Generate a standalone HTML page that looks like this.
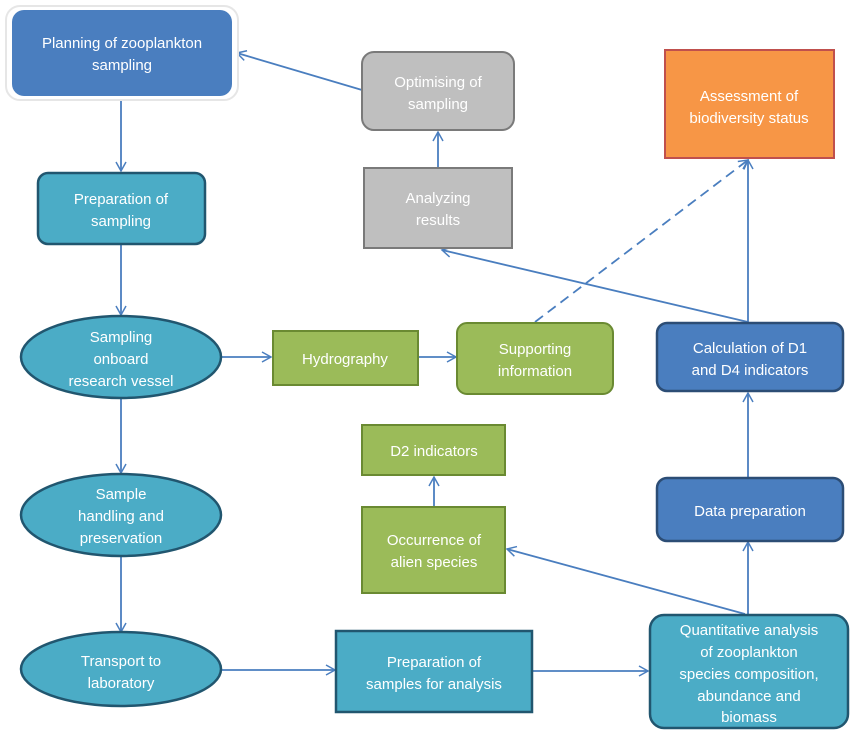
<!DOCTYPE html>
<html><head><meta charset="utf-8"><style>
body{margin:0;background:#fff}
svg text{font-family:"Liberation Sans",sans-serif;font-size:15px;fill:#fff;text-anchor:middle}
</style></head><body>
<svg width="851" height="738" viewBox="0 0 851 738">
<defs>
<marker id="a" markerWidth="12" markerHeight="12" refX="10" refY="6" orient="auto" markerUnits="userSpaceOnUse">
<path d="M1,1 L10,6 L1,11" fill="none" stroke="#4a7ebf" stroke-width="1.5"/></marker>
</defs>
<g stroke="#4a7ebf" stroke-width="1.8" fill="none">
<line x1="362" y1="90" x2="237" y2="53" marker-end="url(#a)"/>
<line x1="438" y1="167" x2="438" y2="132" marker-end="url(#a)"/>
<line x1="748" y1="322" x2="442" y2="250" marker-end="url(#a)"/>
<line x1="535" y1="322" x2="748" y2="160" stroke-dasharray="10,6" marker-end="url(#a)"/>
<line x1="748" y1="322" x2="748" y2="160" marker-end="url(#a)"/>
<line x1="121" y1="98" x2="121" y2="171" marker-end="url(#a)"/>
<line x1="121" y1="245" x2="121" y2="315" marker-end="url(#a)"/>
<line x1="222" y1="357" x2="271" y2="357" marker-end="url(#a)"/>
<line x1="418" y1="357" x2="456" y2="357" marker-end="url(#a)"/>
<line x1="121" y1="398" x2="121" y2="473" marker-end="url(#a)"/>
<line x1="121" y1="556" x2="121" y2="632" marker-end="url(#a)"/>
<line x1="222" y1="670" x2="335" y2="670" marker-end="url(#a)"/>
<line x1="532" y1="671" x2="648" y2="671" marker-end="url(#a)"/>
<line x1="748" y1="614" x2="748" y2="542" marker-end="url(#a)"/>
<line x1="748" y1="477" x2="748" y2="393" marker-end="url(#a)"/>
<line x1="745" y1="614" x2="507" y2="549" marker-end="url(#a)"/>
<line x1="434" y1="506" x2="434" y2="477" marker-end="url(#a)"/>
</g>
<rect x="6" y="6" width="232" height="94" rx="14" fill="#fff" stroke="#e6e6e6" stroke-width="2"/>
<rect x="12" y="10" width="220" height="86" rx="12" fill="#4a7ebf"/>
<text x="122" y="48">Planning of zooplankton</text><text x="122" y="70">sampling</text>
<rect x="362" y="52" width="152" height="78" rx="12" fill="#bfbfbf" stroke="#7a7a7a" stroke-width="2"/>
<text x="438" y="87">Optimising of</text><text x="438" y="109">sampling</text>
<rect x="364" y="168" width="148" height="80" fill="#bfbfbf" stroke="#7a7a7a" stroke-width="2"/>
<text x="438" y="203">Analyzing</text><text x="438" y="225">results</text>
<rect x="665" y="50" width="169" height="108" fill="#f79646" stroke="#c0504d" stroke-width="2"/>
<text x="749" y="101">Assessment of</text><text x="749" y="123">biodiversity status</text>
<rect x="38" y="173" width="167" height="71" rx="10" fill="#4bacc6" stroke="#21566f" stroke-width="2.5"/>
<text x="121" y="204">Preparation of</text><text x="121" y="226">sampling</text>
<ellipse cx="121" cy="357" rx="100" ry="41" fill="#4bacc6" stroke="#21566f" stroke-width="2.5"/>
<text x="121" y="342">Sampling</text><text x="121" y="364">onboard</text><text x="121" y="386">research vessel</text>
<rect x="273" y="331" width="145" height="54" fill="#9bbb59" stroke="#6a8a32" stroke-width="2"/>
<text x="345" y="364">Hydrography</text>
<rect x="457" y="323" width="156" height="71" rx="10" fill="#9bbb59" stroke="#6a8a32" stroke-width="2"/>
<text x="535" y="354">Supporting</text><text x="535" y="376">information</text>
<rect x="657" y="323" width="186" height="68" rx="10" fill="#4a7ebf" stroke="#2c4d75" stroke-width="2.5"/>
<text x="750" y="353">Calculation of D1</text><text x="750" y="375">and D4 indicators</text>
<rect x="362" y="425" width="143" height="50" fill="#9bbb59" stroke="#6a8a32" stroke-width="2"/>
<text x="434" y="456">D2 indicators</text>
<rect x="362" y="507" width="143" height="86" fill="#9bbb59" stroke="#6a8a32" stroke-width="2"/>
<text x="434" y="545">Occurrence of</text><text x="434" y="567">alien species</text>
<rect x="657" y="478" width="186" height="63" rx="10" fill="#4a7ebf" stroke="#2c4d75" stroke-width="2.5"/>
<text x="750" y="516">Data preparation</text>
<ellipse cx="121" cy="515" rx="100" ry="41" fill="#4bacc6" stroke="#21566f" stroke-width="2.5"/>
<text x="121" y="499">Sample</text><text x="121" y="521">handling and</text><text x="121" y="543">preservation</text>
<ellipse cx="121" cy="669" rx="100" ry="37" fill="#4bacc6" stroke="#21566f" stroke-width="2.5"/>
<text x="121" y="666">Transport to</text><text x="121" y="688">laboratory</text>
<rect x="336" y="631" width="196" height="81" fill="#4bacc6" stroke="#21566f" stroke-width="2.5"/>
<text x="434" y="667">Preparation of</text><text x="434" y="689">samples for analysis</text>
<rect x="650" y="615" width="198" height="113" rx="14" fill="#4bacc6" stroke="#21566f" stroke-width="2.5"/>
<text x="749" y="635">Quantitative analysis</text><text x="749" y="657">of zooplankton</text><text x="749" y="679">species composition,</text><text x="749" y="701">abundance and</text><text x="749" y="722">biomass</text>
</svg>
</body></html>
